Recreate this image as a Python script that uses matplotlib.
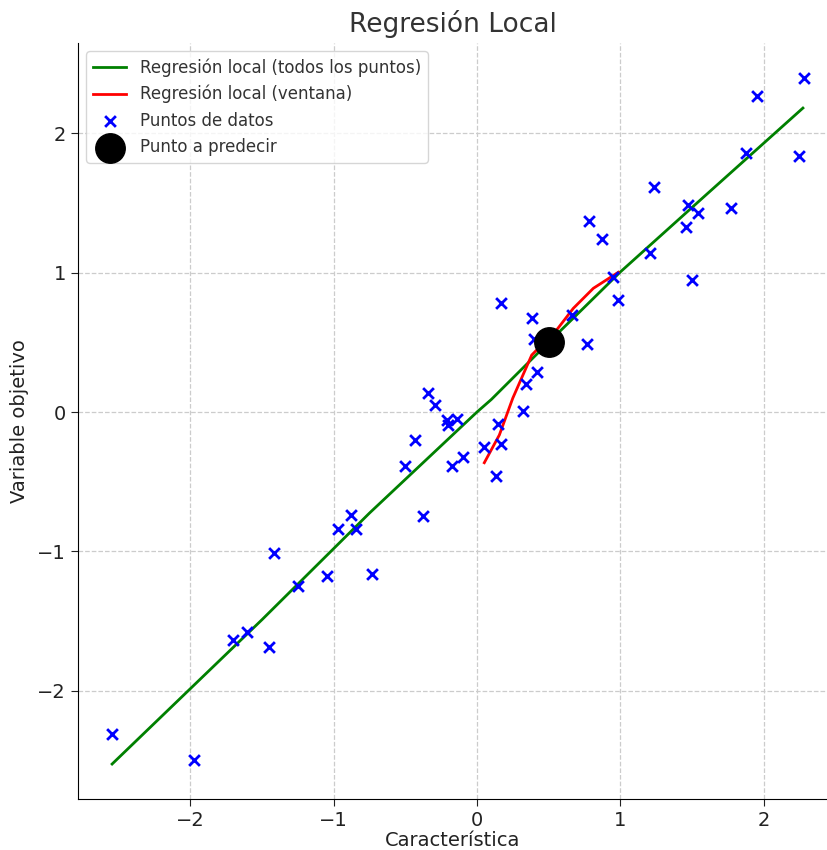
import numpy as np
import matplotlib
matplotlib.use("Agg")
import matplotlib.pyplot as plt

# data points
x_data = [-2.547, -1.975, -1.703, -1.605, -1.452, -1.417, -1.249, -1.047, -0.970, -0.879,
          -0.844, -0.733, -0.502, -0.433, -0.377, -0.342, -0.293, -0.212, -0.142, -0.205,
          -0.177, -0.096, 0.051, 0.130, 0.149, 0.165, 0.319, 0.342, 0.416, 0.400,
          0.386, 0.165, 0.661, 0.766, 0.984, 0.784, 0.870, 0.951, 1.237, 1.207,
          1.475, 1.544, 1.458, 1.503, 1.773, 1.875, 1.956, 2.247, 2.280]
y_data = [-2.31, -2.50, -1.64, -1.58, -1.69, -1.01, -1.25, -1.18, -0.84, -0.74,
          -0.84, -1.16, -0.39, -0.20, -0.75, 0.14, 0.05, -0.06, -0.05, -0.09,
          -0.385, -0.32, -0.25, -0.457, -0.086, -0.232, 0.009, 0.199, 0.285, 0.522,
          0.677, 0.785, 0.696, 0.488, 0.804, 1.371, 1.240, 0.971, 1.617, 1.139,
          1.486, 1.426, 1.330, 0.948, 1.462, 1.857, 2.271, 1.838, 2.400]

# local regression, all points
x_all = [-2.547, -1.5, -0.75, 0.0, 0.1, 0.5, 1.0, 1.6, 2.275]
y_all = [-2.527, -1.49, -0.725, 0.0, 0.09, 0.50, 1.005, 1.56, 2.182]

# local regression, window
x_win = [0.051, 0.156, 0.25, 0.382, 0.428, 0.556, 0.672, 0.812, 0.986]
y_win = [-0.364, -0.165, 0.10, 0.409, 0.457, 0.589, 0.744, 0.888, 1.003]

x_pred = 0.5
y_pred = 0.5

plt.rcParams['font.family'] = ['DejaVu Sans']
fig = plt.figure(figsize=(8.28, 8.5), dpi=100)
ax = fig.add_axes([78 / 828, 1 - 799 / 850, 750 / 828, 756 / 850])

ax.plot(x_all, y_all, color="green", lw=2, label="Regresión local (todos los puntos)")
ax.plot(x_win, y_win, color="red", lw=2, label="Regresión local (ventana)")
ax.scatter(x_data, y_data, marker="x", color="blue", s=60, linewidths=2, label="Puntos de datos", zorder=3)
ax.scatter([x_pred], [y_pred], color="black", s=450, label="Punto a predecir", zorder=4)

ax.set_xlim(-2.785, 2.45)
ax.set_ylim(-2.778, 2.649)
ax.set_xticks([-2, -1, 0, 1, 2])
ax.set_yticks([-2, -1, 0, 1, 2])
ax.tick_params(labelsize=14, colors="#222222", length=5)
ax.grid(True, color="#cccccc", ls="--", lw=0.9)
ax.spines["top"].set_visible(False)
ax.spines["right"].set_visible(False)

ax.set_title("Regresión Local", fontsize=19, color="#333333", pad=8)
ax.set_xlabel("Característica", fontsize=14, color="#222222", labelpad=1)
ax.set_ylabel("Variable objetivo", fontsize=14, color="#222222", labelpad=6)

leg = ax.legend(loc="upper left", fontsize=12, frameon=True, borderaxespad=0.5)
for t in leg.get_texts():
    t.set_color("#333333")

fig.savefig("out.png", dpi=100)
